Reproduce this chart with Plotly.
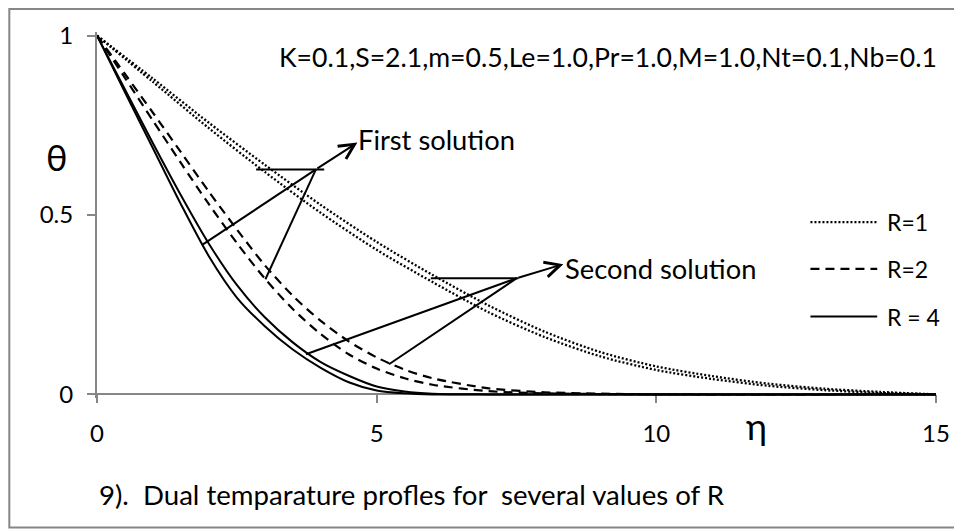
import plotly.graph_objects as go

# ---------------- data ----------------
eta_r1 = [0, 1, 2, 3, 4, 5, 6, 7, 8, 9, 10, 11, 12, 13, 14, 15]
theta_r1_first = [1, 0.88, 0.757, 0.64, 0.528, 0.425, 0.333, 0.248, 0.175, 0.118, 0.078, 0.051, 0.030, 0.016, 0.007, 0]
theta_r1_second = [1, 0.871, 0.742, 0.62, 0.506, 0.403, 0.313, 0.229, 0.160, 0.106, 0.068, 0.043, 0.024, 0.012, 0.004, 0]

eta_r2 = [0, 0.5, 1, 1.5, 2, 2.5, 3, 3.5, 4, 4.5, 5, 5.5, 6, 7, 8, 9, 10, 15]
theta_r2_first = [1, 0.893, 0.785, 0.675, 0.565, 0.46, 0.36, 0.275, 0.205, 0.148, 0.103, 0.069, 0.045, 0.017, 0.006, 0.002, 0, 0]
theta_r2_second = [1, 0.882, 0.763, 0.645, 0.53, 0.422, 0.323, 0.238, 0.168, 0.112, 0.072, 0.045, 0.027, 0.009, 0.003, 0.001, 0, 0]

eta_r4 = [0, 0.5, 1, 1.5, 2, 2.5, 3, 3.5, 4, 4.5, 5, 5.5, 6, 7, 15]
theta_r4_first = [1, 0.85, 0.70, 0.555, 0.42, 0.305, 0.215, 0.145, 0.09, 0.052, 0.022, 0.008, 0.002, 0, 0]
theta_r4_second = [1, 0.842, 0.686, 0.53, 0.385, 0.27, 0.19, 0.125, 0.074, 0.034, 0.011, 0.003, 0, 0, 0]

x_tick_vals = [0, 5, 10, 15]
y_tick_vals = [0, 0.5, 1]
y_tick_text = ["0", "0.5", "1"]
legend_labels = ["R=1", "R=2", "R = 4"]
param_text = "K=0.1,S=2.1,m=0.5,Le=1.0,Pr=1.0,M=1.0,Nt=0.1,Nb=0.1"
caption_text = "9).  Dual temparature profles for  several values of R"

# ---------------- layout geometry ----------------
# The page body has an 8px margin, so the figure is drawn 8px smaller and
# everything is laid out in reference-pixel terms minus that offset.
OFF = 8
W_FIG, H_FIG = 962 - OFF, 531 - OFF
PLOT_X0, PLOT_X1 = 97, 939          # reference px of eta = 0 and eta = 15
Y_LO, Y_HI = -0.01, 1.01
PX_PER_Y = 364.0                    # reference px per unit theta (theta=1 at y=30)
L = PLOT_X0 - OFF
PW = PLOT_X1 - PLOT_X0
R_M = W_FIG - L - PW
T = (30 - OFF) - (Y_HI - 1) * PX_PER_Y
PH = (Y_HI - Y_LO) * PX_PER_Y
B = H_FIG - T - PH


def px(xp):
    """reference x pixel -> paper x"""
    return (xp - OFF - L) / PW


def py(yp):
    """reference y pixel -> paper y"""
    return (T + PH - (yp - OFF)) / PH


FONT = "Lato, 'Noto Sans', 'DejaVu Sans', sans-serif"
GRAY = "#868686"

fig = go.Figure()

styles = {
    "dot": dict(color="black", width=2.3, dash="2px,2px"),
    "dash": dict(color="black", width=2.2, dash="9px,6px"),
    "solid": dict(color="black", width=2),
}

series = [
    ("R=1 first", eta_r1, theta_r1_first, "dot"),
    ("R=1 second", eta_r1, theta_r1_second, "dot"),
    ("R=2 first", eta_r2, theta_r2_first, "dash"),
    ("R=2 second", eta_r2, theta_r2_second, "dash"),
    ("R=4 first", eta_r4, theta_r4_first, "solid"),
    ("R=4 second", eta_r4, theta_r4_second, "solid"),
]
for name, xs, ys, st in series:
    fig.add_trace(go.Scatter(x=xs, y=ys, mode="lines", name=name,
                             line=dict(shape="spline", smoothing=0.8, **styles[st]),
                             showlegend=False, hoverinfo="skip"))

shapes = []
annotations = []

# outer frame
shapes.append(dict(type="rect", xref="paper", yref="paper",
                   x0=px(9), x1=px(961), y0=py(3), y1=py(529),
                   line=dict(color=GRAY, width=2), layer="below"))

# pointer lines (data coordinates)
seg = dict(type="line", xref="x", yref="y", line=dict(color="black", width=2))
pointer_lines = [
    (2.845, 0.627, 4.062, 0.627),
    (3.914, 0.627, 1.894, 0.418),
    (3.914, 0.627, 3.011, 0.321),
    (5.968, 0.324, 7.536, 0.324),
    (7.505, 0.324, 3.736, 0.112),
    (7.505, 0.324, 5.22, 0.084),
]
for x0, y0, x1, y1 in pointer_lines:
    shapes.append(dict(seg, x0=x0, y0=y0, x1=x1, y1=y1))

# arrows
for (tx, ty, hx, hy) in [(3.914, 0.627, 4.655, 0.702), (7.505, 0.324, 8.337, 0.363)]:
    annotations.append(dict(x=hx, y=hy, ax=tx, ay=ty, xref="x", yref="y",
                            axref="x", ayref="y", text="", showarrow=True,
                            arrowhead=5, arrowsize=1.5, arrowwidth=2,
                            arrowcolor="black", standoff=0, startstandoff=0))

# manual legend
leg_y = [219.3, 266.7, 315]
leg_style = ["dot", "dash", "solid"]
for yy, st, lab in zip(leg_y, leg_style, legend_labels):
    s = styles[st]
    shapes.append(dict(type="line", xref="paper", yref="paper",
                       x0=px(813), x1=px(880), y0=py(yy), y1=py(yy),
                       line=dict(color="black", width=s["width"], dash=s.get("dash", "solid"))))
    annotations.append(dict(x=px(888), y=py(yy), xref="paper", yref="paper",
                            text=lab, showarrow=False, xanchor="left", yanchor="middle",
                            font=dict(family=FONT, size=23, color="black")))


def label(text, xp, yp, size, anchor="left"):
    annotations.append(dict(x=px(xp), y=py(yp), xref="paper", yref="paper",
                            text=text, showarrow=False, xanchor=anchor, yanchor="middle",
                            font=dict(family=FONT, size=size, color="black")))


label(param_text, 278, 52, 26.6)
label("First solution", 357, 135, 27.3)
label("Second solution", 565, 266, 27.3)
label(caption_text, 97, 496, 27.6)
label("θ", 57, 153, 36, "center")
label("η", 759, 426, 36, "center")

fig.update_layout(
    width=W_FIG, height=H_FIG, autosize=False,
    margin=dict(l=L, r=R_M, t=T, b=B, pad=0),
    paper_bgcolor="white", plot_bgcolor="white",
    shapes=shapes, annotations=annotations,
    showlegend=False,
    font=dict(family=FONT, color="black"),
    xaxis=dict(range=[0, 15], tickvals=x_tick_vals, ticks="outside", ticklen=8,
               tickwidth=2, tickcolor=GRAY, showline=True, linecolor=GRAY, linewidth=2,
               showgrid=False, zeroline=False, anchor="free",
               position=(0 - Y_LO) / (Y_HI - Y_LO), layer="below traces",
               tickfont=dict(family=FONT, size=24, color="black"),
               ticklabelstandoff=10),
    yaxis=dict(range=[Y_LO, Y_HI], tickvals=y_tick_vals, ticktext=y_tick_text,
               ticks="outside", ticklen=8, tickwidth=2, tickcolor=GRAY,
               showline=True, linecolor=GRAY, linewidth=2, showgrid=False,
               zeroline=False, layer="below traces",
               tickfont=dict(family=FONT, size=24, color="black"),
               ticklabelstandoff=9),
)

fig.write_html("out.html")
